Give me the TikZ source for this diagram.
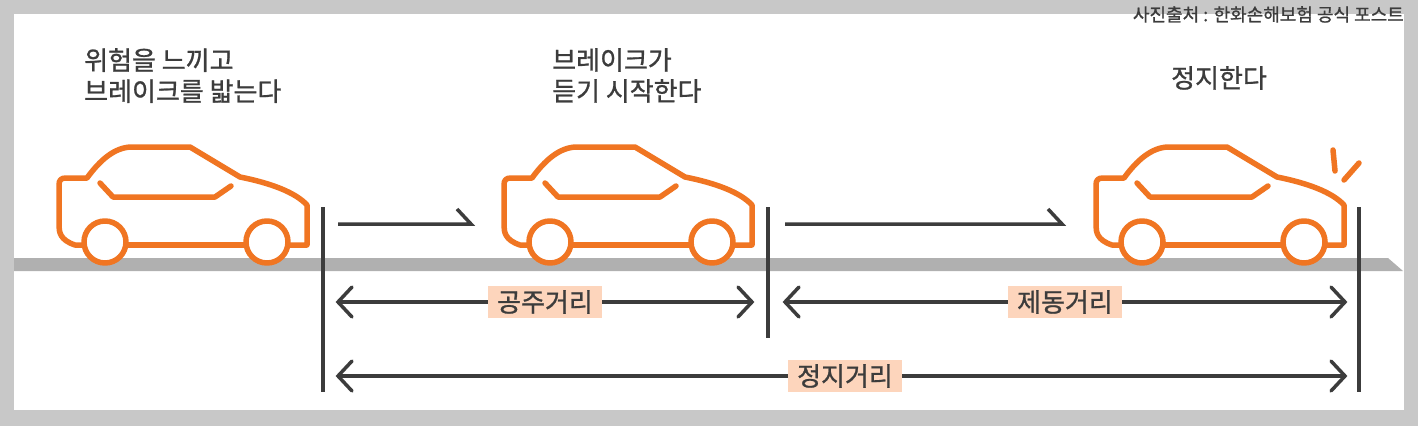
\documentclass[tikz,border=0pt]{standalone}
\usepackage{fontspec}
\setmainfont{Noto Sans CJK KR}[FakeBold=1]
\begin{document}
\begin{tikzpicture}[x=1pt,y=-1pt,
  car/.style={draw=carO,line width=5.5pt,line join=round,line cap=round},
  dim/.style={draw=dk,line width=3.5pt},
  lab/.style={fill=peach,inner xsep=9pt,inner ysep=4pt,font=\fontsize{26}{28}\selectfont,text=dk},
  ttl/.style={align=left,anchor=north west,inner sep=0pt,font=\fontsize{26}{31}\selectfont,text=dk}]
\definecolor{carO}{HTML}{F07522}
\definecolor{dk}{HTML}{3C3C3C}
\definecolor{peach}{HTML}{FDD5BC}
\definecolor{frame}{HTML}{C8C8C8}
\definecolor{road}{HTML}{B0B0B0}
\useasboundingbox (0,0) rectangle (1418,426);
\fill[frame] (0,0) rectangle (1418,426);
\fill[white] (14,14) rectangle (1404,410);
\fill[road] (14,258) -- (1388,258) -- (1403,271) -- (14,271) -- cycle;
\node[anchor=north east,font=\fontsize{18}{20}\selectfont,text=dk,inner sep=0pt] (src) at (1404,6) {사진출처 : 한화손해보험 공식 포스트};
\node[ttl] (t1) at (84,48) {위험을 느끼고\\브레이크를 밟는다};
\node[ttl] (t2) at (552,48) {브레이크가\\듣기 시작한다};
\node[ttl] (t3) at (1171,66) {정지한다};
\foreach \dx in {0,445,1037}{
\begin{scope}[xshift=\dx]
\draw[car,fill=white] (105,245) -- (75,245) .. controls (60,240) and (59,232) .. (59,225) -- (59,185) .. controls (59,180) and (61,178) .. (66,178) -- (87,178) .. controls (100,160) and (115,147) .. (132,147) -- (190,147) -- (240,177) .. controls (270,183) and (295,192) .. (307,205) -- (307,245) -- (267,245);
\draw[car] (105,245) -- (267,245);
\draw[car,fill=white] (105,242) circle (21);
\draw[car,fill=white] (267,242) circle (21);
\draw[car] (100,183) -- (113,197) -- (215,197) -- (231,186);
\end{scope}}
\draw[car] (1333,150) -- (1335,171);
\draw[car] (1359,163) -- (1344,180);
\coordinate (v1a) at (323,207); \coordinate (v1b) at (323,392);
\coordinate (v2a) at (768,207); \coordinate (v2b) at (768,338);
\coordinate (v3a) at (1359,207); \coordinate (v3b) at (1359,392);
\draw[dim] (v1a) -- (v1b); \draw[dim] (v2a) -- (v2b); \draw[dim] (v3a) -- (v3b);
\coordinate (m1a) at (338,224); \coordinate (m1b) at (471,224);
\coordinate (m2a) at (785,224); \coordinate (m2b) at (1062,224);
\draw[dim,line join=miter] (m1a) -- (m1b) -- ++(-14,-15);
\draw[dim,line join=miter] (m2a) -- (m2b) -- ++(-14,-15);
\node[lab] (l1) at (545,302) {공주거리};
\node[lab] (l2) at (1065,302) {제동거리};
\node[lab] (l3) at (845,376) {정지거리};
\coordinate (a1) at (338,302); \coordinate (b1) at (752,302);
\coordinate (a2) at (785,302); \coordinate (b2) at (1345,302);
\coordinate (a3) at (338,376); \coordinate (b3) at (1345,376);
\foreach \a/\l/\b in {a1/l1/b1,a2/l2/b2,a3/l3/b3}{
 \draw[dim] (\a) -- (\l.west); \draw[dim] (\l.east) -- (\b);
 \draw[dim,line cap=round,line join=miter] ([xshift=14,yshift=-15]\a) -- (\a) -- ([xshift=14,yshift=15]\a);
 \draw[dim,line cap=round,line join=miter] ([xshift=-14,yshift=-15]\b) -- (\b) -- ([xshift=-14,yshift=15]\b);}
\end{tikzpicture}
\end{document}
